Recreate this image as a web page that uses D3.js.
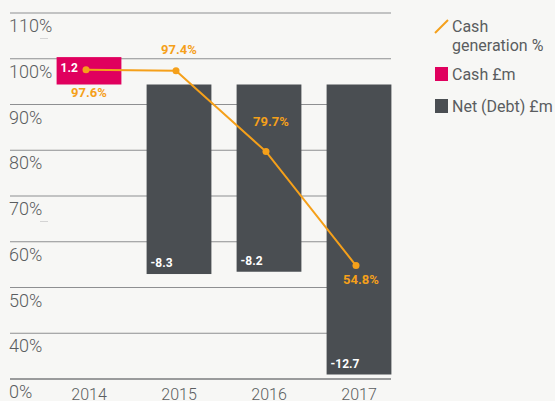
<!DOCTYPE html>
<html lang="en">
<head>
    <meta charset="UTF-8">
    <title>Cash generation</title>
    <script src="https://cdn.jsdelivr.net/npm/d3@7.8.5/dist/d3.min.js"></script>
    <style>
        html, body { margin: 0; padding: 0; background: #f7f7f5; }
        text { font-family: Roboto, "Noto Sans", sans-serif; }
    </style>
</head>
<body>
<div id="chart"></div>
<script type="text/javascript">
    const width = 555;
    const height = 401;

    // data
    const years = ["2014", "2015", "2016", "2017"];
    const cashGeneration = [97.6, 97.4, 79.7, 54.8];
    const netCash = [1.2, -8.3, -8.2, -12.7];
    // the printed axis is broken: bottom line reads 0% but sits where 30% would be
    const tickValues = [30, 40, 50, 60, 70, 80, 90, 100, 110];
    const tickLabels = ["0%", "40%", "50%", "60%", "70%", "80%", "90%", "100%", "110%"];

    const orange = "#f5a01a";
    const pink = "#e0005e";
    const dark = "#4a4e52";
    const textGrey = "#5a5d60";

    const svg = d3.select("#chart")
        .append("svg")
        .attr("width", width)
        .attr("height", height);

    // scales
    const x = d3.scaleBand()
        .domain(years)
        .range([44, 404])
        .paddingInner(0.28)
        .paddingOuter(0.14);

    const yPct = d3.scaleLinear()
        .domain([30, 110])
        .range([379, 13]);

    const yCash = d3.scaleLinear()
        .domain([0, -12.7])
        .range([84.5, 374.5]);

    // gridlines + labels
    const grid = svg.append("g");
    grid.selectAll("line")
        .data(tickValues)
        .join("line")
        .attr("x1", 10)
        .attr("x2", 391)
        .attr("y1", d => yPct(d))
        .attr("y2", d => yPct(d))
        .attr("stroke", d => d === 30 ? "#9a9b9c" : "#8e8f91")
        .attr("stroke-width", d => d === 30 ? 2 : 1.2);

    grid.selectAll("text")
        .data(tickValues)
        .join("text")
        .attr("x", 9)
        .attr("y", d => yPct(d) + 19)
        .attr("fill", textGrey)
        .attr("font-size", 18)
        .attr("font-weight", 300)
        .text((d, i) => tickLabels[i]);

    // faint stray marks under two of the labels
    grid.selectAll("line.stray")
        .data([110, 70])
        .join("line")
        .attr("class", "stray")
        .attr("x1", 40).attr("x2", 48)
        .attr("y1", d => yPct(d) + 25.5)
        .attr("y2", d => yPct(d) + 25.5)
        .attr("stroke", "#d4d4d4")
        .attr("stroke-width", 1);

    // x labels
    svg.append("g").selectAll("text")
        .data(years)
        .join("text")
        .attr("x", d => x(d) + x.bandwidth() / 2)
        .attr("y", 400)
        .attr("text-anchor", "middle")
        .attr("fill", textGrey)
        .attr("font-size", 16)
        .attr("font-weight", 300)
        .text(d => d);

    // bars
    const bars = svg.append("g");
    bars.selectAll("rect")
        .data(netCash)
        .join("rect")
        .attr("x", (d, i) => x(years[i]))
        .attr("width", x.bandwidth())
        .attr("y", d => Math.min(yCash(d), yCash(0)))
        .attr("height", d => Math.abs(yCash(d) - yCash(0)))
        .attr("fill", d => d >= 0 ? pink : dark);

    bars.selectAll("text")
        .data(netCash)
        .join("text")
        .attr("x", (d, i) => x(years[i]) + 4)
        .attr("y", d => d >= 0 ? yCash(d) + 15 : yCash(d) - 7)
        .attr("fill", "#fff")
        .attr("font-size", 12)
        .attr("font-weight", 700)
        .text(d => d.toFixed(1));

    // line
    const line = d3.line()
        .x((d, i) => x(years[i]) + x.bandwidth() / 2 - 3)
        .y(d => yPct(d));

    svg.append("path")
        .attr("d", line(cashGeneration))
        .attr("fill", "none")
        .attr("stroke", orange)
        .attr("stroke-width", 2);

    svg.append("g").selectAll("circle")
        .data(cashGeneration)
        .join("circle")
        .attr("cx", (d, i) => x(years[i]) + x.bandwidth() / 2 - 3)
        .attr("cy", d => yPct(d))
        .attr("r", 3.5)
        .attr("fill", orange);

    // label offsets: below, above, above, below
    const labelDy = [27, -17, -26, 18];
    svg.append("g").selectAll("text")
        .data(cashGeneration)
        .join("text")
        .attr("x", (d, i) => x(years[i]) + x.bandwidth() / 2 + (i >= 2 ? 2 : 0))
        .attr("y", (d, i) => yPct(d) + labelDy[i])
        .attr("text-anchor", "middle")
        .attr("fill", orange)
        .attr("font-size", 13)
        .attr("font-weight", 700)
        .text(d => d.toFixed(1) + "%");

    // legend
    const legend = svg.append("g");
    legend.append("line")
        .attr("x1", 435).attr("y1", 33)
        .attr("x2", 448).attr("y2", 20)
        .attr("stroke", orange)
        .attr("stroke-width", 2);
    legend.append("text")
        .attr("x", 452).attr("y", 32)
        .attr("fill", textGrey).attr("font-size", 16)
        .text("Cash");
    legend.append("text")
        .attr("x", 452).attr("y", 51)
        .attr("fill", textGrey).attr("font-size", 16)
        .text("generation %");

    const swatches = [
        {label: "Cash £m", color: pink, y: 67},
        {label: "Net (Debt) £m", color: dark, y: 99}
    ];
    legend.selectAll("rect")
        .data(swatches)
        .join("rect")
        .attr("x", 435).attr("y", d => d.y)
        .attr("width", 13).attr("height", 14)
        .attr("fill", d => d.color);
    legend.selectAll("text.sw")
        .data(swatches)
        .join("text")
        .attr("class", "sw")
        .attr("x", 452).attr("y", d => d.y + 13)
        .attr("fill", textGrey).attr("font-size", 16)
        .text(d => d.label);
</script>
</body>
</html>
